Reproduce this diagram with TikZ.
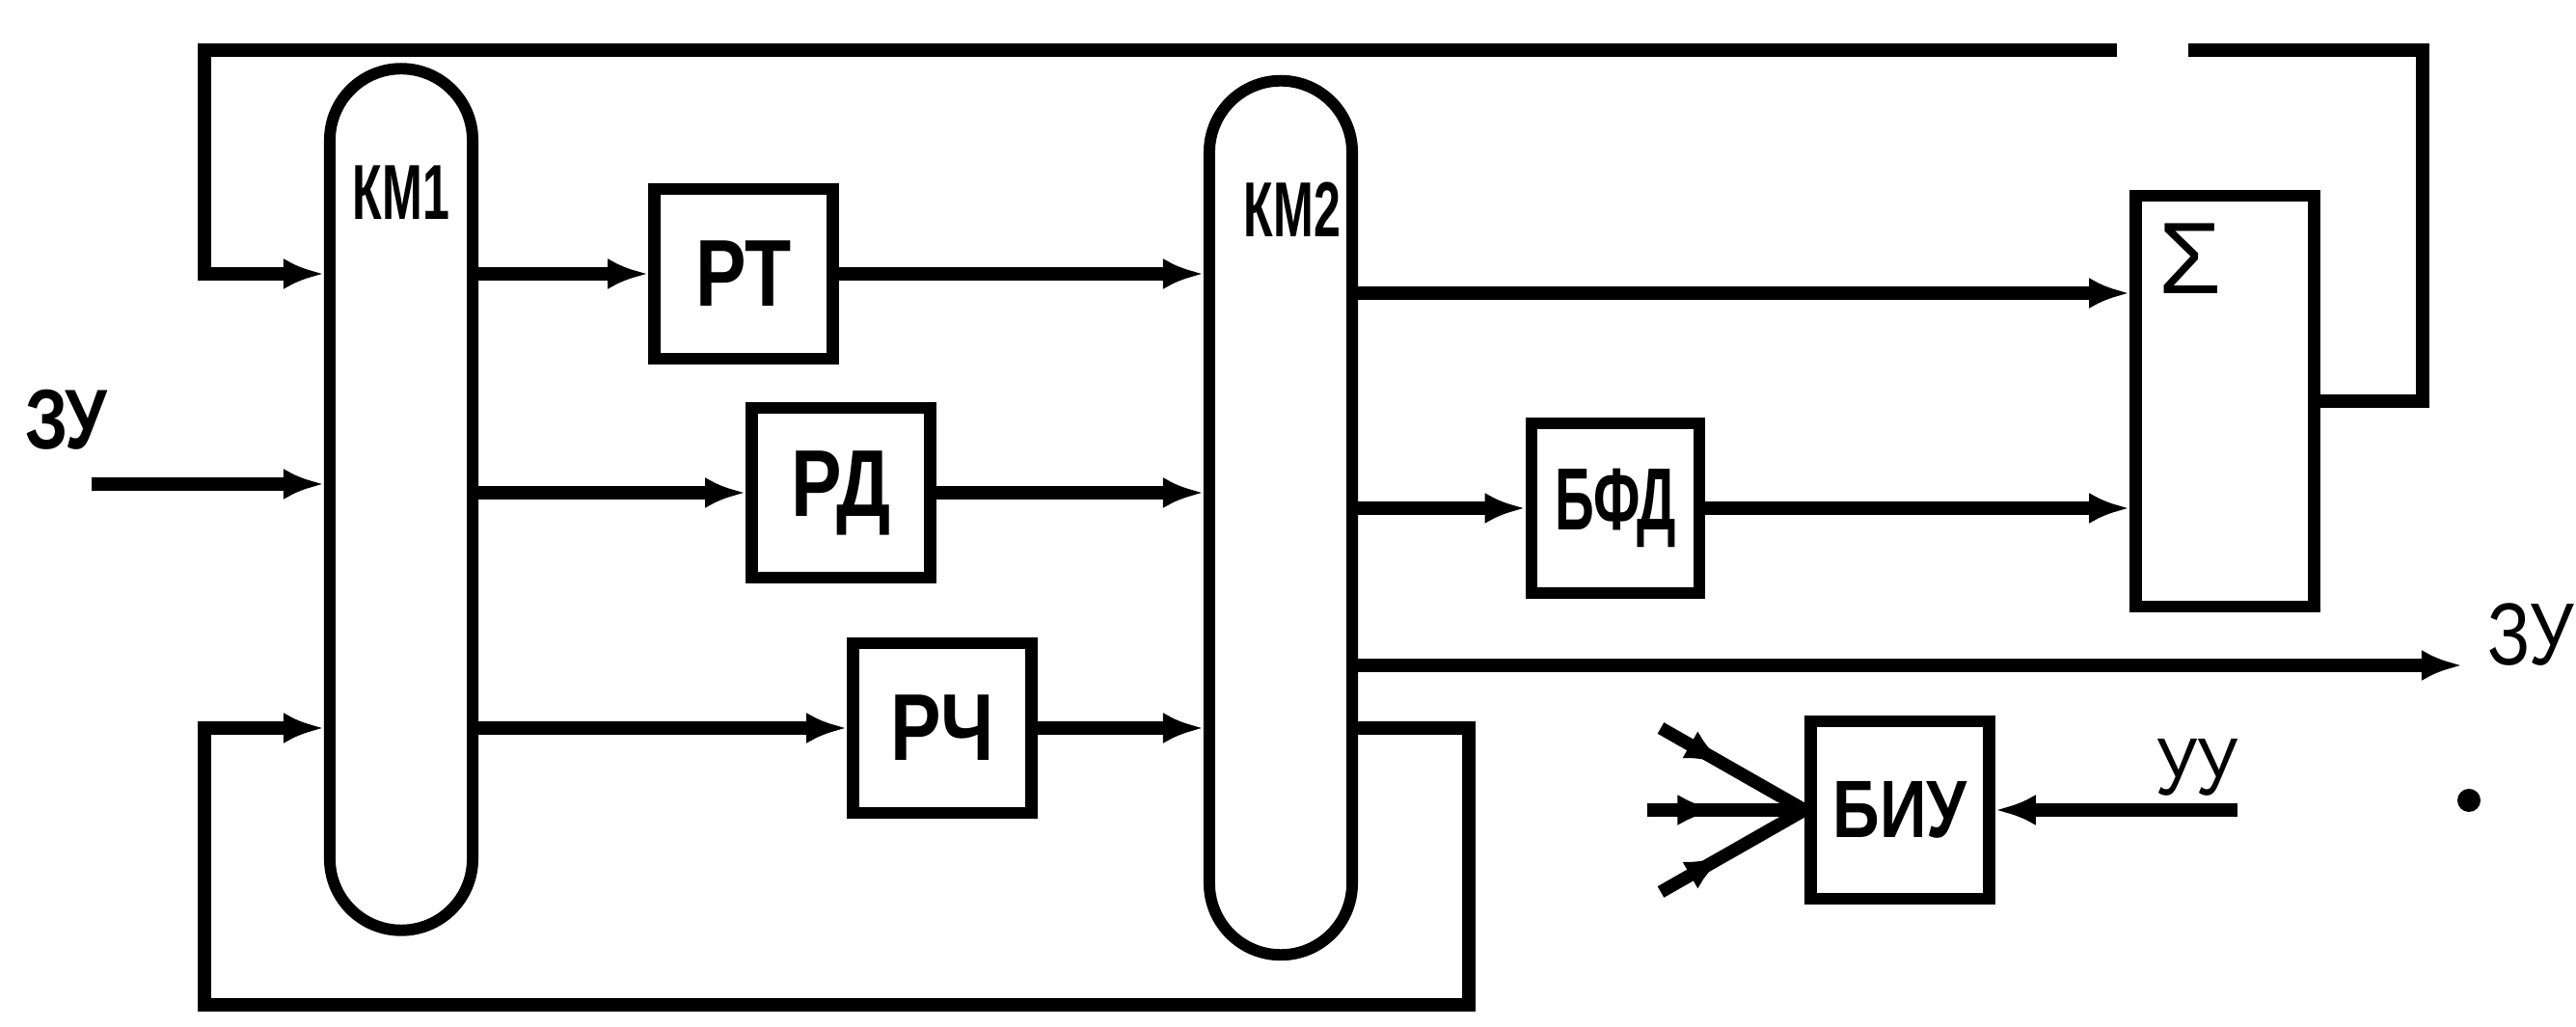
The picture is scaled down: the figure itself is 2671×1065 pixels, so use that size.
\documentclass[tikz,border=0pt]{standalone}
\usepackage{fontspec}
\setmainfont{Liberation Sans}
\newfontfamily\handfont[FakeStretch=0.8]{Liberation Sans}
\newfontfamily\slimfont[FakeStretch=0.62]{Liberation Sans}
\usetikzlibrary{arrows.meta, positioning, decorations.markings}

\begin{document}
\begin{tikzpicture}[
  x=0.01cm, y=0.01cm,
  line width=3.8pt,
  kmbox/.style={draw, rectangle, rounded corners=0.74cm, minimum width=1.48cm, inner sep=0pt, line width=3.4pt},
  kmtext/.style={inner sep=0pt, font=\slimfont\bfseries\fontsize{23}{23}\selectfont},
  block/.style={draw, rectangle, minimum width=1.85cm, minimum height=1.76cm, inner sep=0pt, line width=3.6pt, font=\handfont\bfseries\fontsize{28}{28}\selectfont},
  tag/.style={inner sep=0pt, font=\handfont\fontsize{26}{26}\selectfont},
  line/.style={-{Latex[length=0.42cm, width=0.32cm]}},
  wire/.style={-},
  fanline/.style={postaction={decorate}, decoration={markings, mark=at position 0.45 with {\arrow{Latex[length=0.42cm, width=0.32cm]}}}}
]
  \useasboundingbox (0,0) rectangle (2671,-1065);

  % commutators
  \node[kmbox, minimum height=8.93cm] (KM1) at (416,-518) {};
  \node[kmtext, below=1.0cm of KM1.north] (km1lab) {КМ1};
  \node[kmbox, minimum height=9.06cm] (KM2) at (1328,-537) {};
  \node[kmtext, below=1.05cm of KM2.north, xshift=0.12cm] (km2lab) {КМ2};

  % blocks
  \node[block] (PT) at (771,-284) {РТ};
  \node[block] (RD) at (872,-511) {РД};
  \node[block] (RCh) at (977,-755) {РЧ};
  \node[block, minimum width=1.74cm, font=\slimfont\bfseries\fontsize{26}{26}\selectfont] (BFD) at (1675,-527) {БФД};
  \node[block, minimum height=4.26cm] (Sigma) at (2307,-416) {};
  \node[inner sep=0pt, font=\fontsize{30}{30}\selectfont, below right=0.29cm and 0.24cm of Sigma.north west] (sig) {Σ};
  \node[block, minimum height=1.84cm, font=\handfont\bfseries\fontsize{24}{24}\selectfont] (BIU) at (1970,-840) {БИУ};

  % labels
  \node[tag, font=\handfont\bfseries\fontsize{25}{25}\selectfont] (zuIn) at (69,-435) {ЗУ};
  \node[tag] (zuOut) at (2624,-658) {ЗУ};
  \node[tag, font=\handfont\fontsize{24}{24}\selectfont] (uu) at (2278,-796) {УУ};
  \node[circle, fill, inner sep=0pt, minimum size=0.24cm] (dot) at (2560,-830) {};

  \coordinate (topL) at (212,-52);
  \coordinate (gapL) at (2195,-52);
  \coordinate (gapR) at (2269,-52);
  \coordinate (topR) at (2512,-52);
  \coordinate (botL) at (212,-1042);
  \coordinate (botR) at (1523,-1042);
  \coordinate (zuStart) at (95,-502);
  \coordinate (zuEnd) at (2553,-690);
  \coordinate (uuEnd) at (2320,-840);
  \coordinate (fanA) at (1722,-755);
  \coordinate (fanB) at (1708,-840);
  \coordinate (fanC) at (1722,-925);
  \coordinate (s1) at ([yshift=-0.2cm]PT.east);

  % feedback from the adder
  \draw[wire] (Sigma.east) -| (topR) -- (gapR);
  \draw[line] (gapL) -- (topL) |- (KM1.west |- PT.west);

  % upper row
  \draw[line] (KM1.east |- PT.west) -- (PT.west);
  \draw[line] (PT.east) -- (PT.east -| KM2.west);
  \draw[line] (s1 -| KM2.east) -- (s1 -| Sigma.west);

  % middle row
  \draw[line] (zuStart) -- (zuStart -| KM1.west);
  \draw[line] (KM1.east |- RD.west) -- (RD.west);
  \draw[line] (RD.east) -- (RD.east -| KM2.west);
  \draw[line] (KM2.east |- BFD.west) -- (BFD.west);
  \draw[line] (BFD.east) -- (BFD.east -| Sigma.west);

  % lower row and loop
  \draw[line] (KM1.east |- RCh.west) -- (RCh.west);
  \draw[line] (RCh.east) -- (RCh.east -| KM2.west);
  \draw[line] (KM2.east |- RCh.east) -| (botR) -- (botL) |- (KM1.west |- RCh.west);

  % output
  \draw[line] (KM2.east |- zuEnd) -- (zuEnd);

  % control block
  \draw[fanline] (fanA) -- (BIU.west);
  \draw[fanline] (fanB) -- (BIU.west);
  \draw[fanline] (fanC) -- (BIU.west);
  \draw[line] (uuEnd) -- (BIU.east);
\end{tikzpicture}
\end{document}
